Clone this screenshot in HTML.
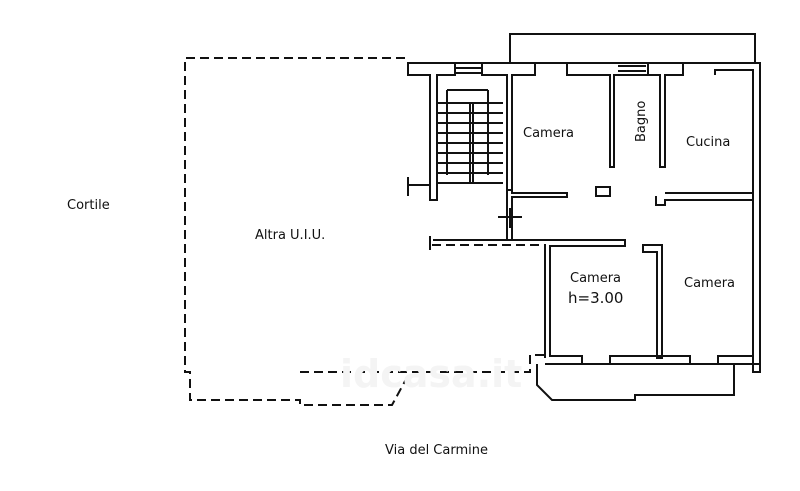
<!DOCTYPE html>
<html><head><meta charset="utf-8"><style>
html,body{margin:0;padding:0;background:#fff;width:800px;height:491px;overflow:hidden}
svg{display:block}
text{font-family:"DejaVu Sans","Liberation Sans",sans-serif;fill:#111}
</style></head><body>
<svg width="800" height="491" viewBox="0 0 800 491">
<g fill="none" stroke="#111" stroke-width="2">
<path d="M405 58 H185 V372 H190 V400 H300 V405 H392 L410 372" stroke-dasharray="9,5"/>
<path d="M300 372 H530 V355 H545 V245 H430" stroke-dasharray="9,5"/>
<path d="M510 63 V34 H755 V63"/>
<path d="M408 63 H455 V75 H437 V200 H430 V75 H408 Z"/>
<rect x="455" y="63" width="27" height="10"/>
<line x1="455" y1="68" x2="482" y2="68"/>
<path d="M482 63 H535 V75 H512 V190 H507 V75 H482 Z"/>
<path d="M535 63 H760 V372 H753 V70 H715 V75 M567 63 V75 H610 V167 H614 V75 H648 V63 M648 63 V75 H660 V167 H665 V75 H683 V63"/>
<line x1="618" y1="66" x2="646" y2="66"/><line x1="618" y1="71" x2="646" y2="71"/>
<path d="M408 177 V196 M408 185 H430"/>
<path d="M437 183 H503 M470 103 V183 M473 103 V183 M447 90 V175 M488 90 V175 M447 90 H488"/>
<path d="M437 103 H503 M437 113 H503 M437 123 H503 M437 133 H503 M437 143 H503 M437 153 H503 M437 163 H503 M437 173 H503"/>
<path d="M512 190 V193 H567 V197 H512 V240 M507 190 V240"/>
<rect x="596" y="187" width="14" height="9"/>
<path d="M656 196 V205 H665 V200 H753 V193 H665"/>
<path d="M498 217 H522 M510 208 V228"/>
<path d="M430 236 V250 M433 240 H625 V246 H550 V356 H582 V364 M545 246 V358"/>
<path d="M643 245 H662 V358 H657 V252 H643 Z"/>
<path d="M610 364 V356 H690 V364 M718 364 V356 H753 M545 364 H760"/>
<path d="M537 364 V385 L552 400 H635 V395 H734 V364"/>
</g>
<text x="67" y="209" font-size="13">Cortile</text>
<text x="255" y="239" font-size="13">Altra U.I.U.</text>
<text x="523" y="137" font-size="13">Camera</text>
<text x="686" y="146" font-size="13">Cucina</text>
<text transform="translate(645,142) rotate(-90)" font-size="13">Bagno</text>
<text x="570" y="282" font-size="13">Camera</text>
<text x="568" y="303" font-size="15">h=3.00</text>
<text x="684" y="287" font-size="13">Camera</text>
<text x="385" y="454" font-size="13">Via del Carmine</text>
<text x="340" y="387" font-size="38" font-weight="bold" style="fill:#f4f4f4">idcasa.it</text>
</svg>
</body></html>
